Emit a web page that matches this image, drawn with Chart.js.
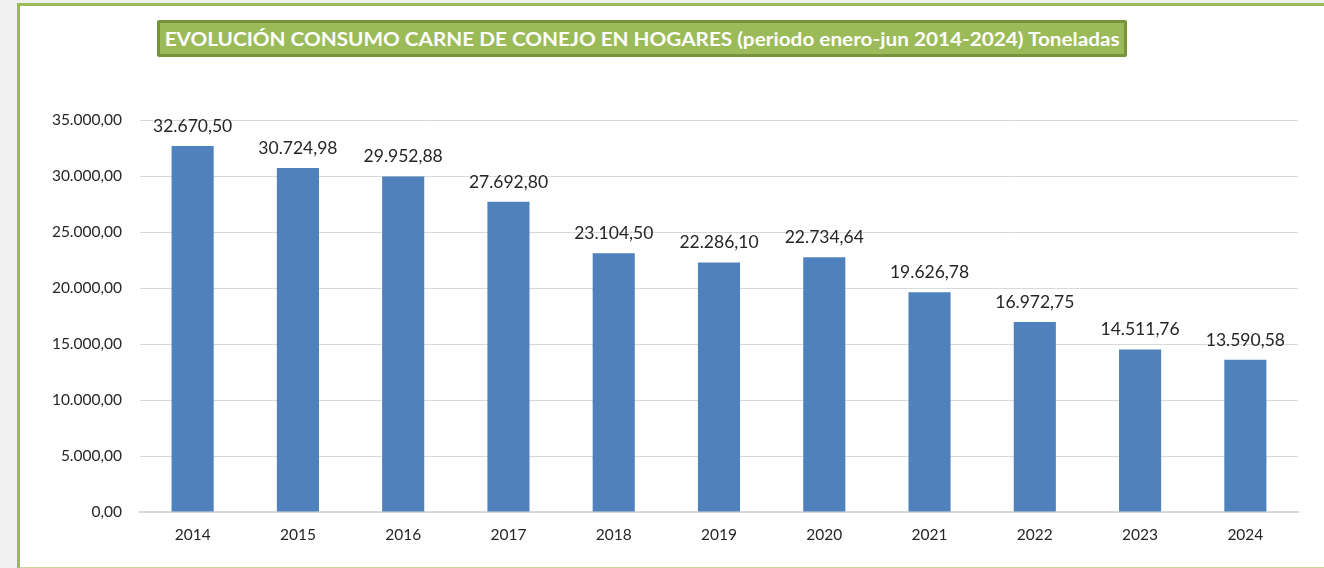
<!DOCTYPE html>
<html>
<head>
<meta charset="utf-8">
<script src="https://cdn.jsdelivr.net/npm/chart.js@4"></script>
<style>
  html, body { margin: 0; padding: 0; background: #f0f0f0; width: 1324px; height: 568px; overflow: hidden; }
  #frame { position: absolute; left: 17px; top: 3px; width: 1320px; height: 561px; background: #fff;
           border-left: 3px solid #9bbb59; border-top: 3px solid #9bbb59; border-bottom: 2px solid #c3d69b; }
  #title { position: absolute; left: 157px; top: 20px; width: 964px; height: 31px; background: #9bbb59;
           border: 3px solid #77933c; border-radius: 2px; color: #fff; font-family: Lato, sans-serif; font-weight: bold;
           font-size: 19.5px; line-height: 31px; text-align: center; white-space: nowrap; overflow: hidden; }
  #title span { display: inline-block; transform-origin: center; }
  canvas { position: absolute; left: 0; top: 0; }
</style>
</head>
<body>
<div id="frame"></div>
<div id="title"><span id="ttext">EVOLUCIÓN CONSUMO CARNE DE CONEJO EN HOGARES (periodo enero-jun 2014-2024) Toneladas</span></div>
<canvas id="c" width="1324" height="568"></canvas>
<script>
const years = ['2014', '2015', '2016', '2017', '2018', '2019', '2020', '2021', '2022', '2023', '2024'];
const toneladas = [32670.50, 30724.98, 29952.88, 27692.80, 23104.50, 22286.10, 22734.64, 19626.78, 16972.75, 14511.76, 13590.58];
const yTicks = [0, 5000, 10000, 15000, 20000, 25000, 30000, 35000];

// fit the title text to the box width
const t = document.getElementById('ttext');
const wanted = 955;
t.style.transform = 'scaleX(' + (wanted / t.getBoundingClientRect().width) + ')';

function fmt(v) {
  const parts = v.toFixed(2).split('.');
  return parts[0].replace(/\B(?=(\d{3})+(?!\d))/g, '.') + ',' + parts[1];
}

const barLabels = {
  id: 'barLabels',
  afterDatasetsDraw(chart) {
    const ctx = chart.ctx;
    const meta = chart.getDatasetMeta(0);
    ctx.save();
    ctx.font = '17.5px Lato, sans-serif';
    ctx.fillStyle = '#262626';
    ctx.textAlign = 'center';
    ctx.textBaseline = 'bottom';
    meta.data.forEach((bar, i) => {
      ctx.fillText(fmt(toneladas[i]), bar.x, bar.y - 11);
    });
    ctx.restore();
  }
};

new Chart(document.getElementById('c'), {
  type: 'bar',
  data: {
    labels: years,
    datasets: [{
      data: toneladas,
      backgroundColor: '#4f81bd',
      barPercentage: 0.4,
      categoryPercentage: 1
    }]
  },
  options: {
    responsive: false,
    animation: false,
    layout: { padding: { top: 120, left: 0, right: 26, bottom: 0 } },
    plugins: { legend: { display: false }, tooltip: { enabled: false } },
    scales: {
      x: {
        grid: { display: false, drawTicks: false },
        border: { color: '#d9d9d9', width: 2 },
        ticks: { color: '#262626', font: { family: 'Lato', size: 15.5 }, padding: 14 },
        afterFit(s) { s.height = 56; }
      },
      y: {
        min: 0,
        max: 35000,
        afterBuildTicks(s) { s.ticks = yTicks.map(v => ({ value: v })); },
        grid: { color: '#d9d9d9', drawTicks: false },
        border: { display: false },
        ticks: { color: '#262626', font: { family: 'Lato', size: 15.5 }, padding: 18, callback: v => fmt(v) },
        afterFit(s) { s.width = 140; }
      }
    }
  },
  plugins: [barLabels]
});
</script>
</body>
</html>
